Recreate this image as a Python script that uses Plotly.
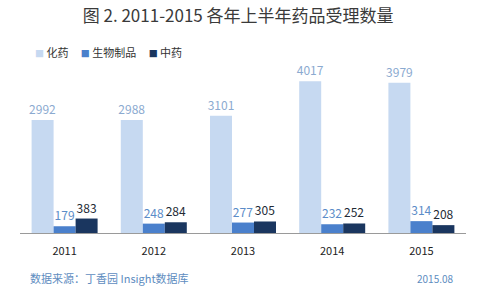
import plotly.graph_objects as go

years = ["2011", "2012", "2013", "2014", "2015"]
chem = [2992, 2988, 3101, 4017, 3979]
bio = [179, 248, 277, 232, 314]
tcm = [383, 284, 305, 252, 208]
series_names = ["化药", "生物制品", "中药"]

FONT = "Noto Sans CJK SC, Noto Sans, sans-serif"
bar_colors = ["#C6D9F1", "#4A80CC", "#1A365F"]
label_colors = ["#8BAAD0", "#5B8CC8", "#222A35"]

fig = go.Figure()
for name, vals, bc, lc in zip(series_names, [chem, bio, tcm], bar_colors, label_colors):
    fig.add_trace(go.Bar(
        x=years, y=vals, name=name, marker=dict(color=bc, line=dict(width=0)),
        text=[str(v) for v in vals], textposition="outside", cliponaxis=False,
        constraintext="none",
        textfont=dict(family=FONT, size=12, color=lc), showlegend=False,
    ))

# plot area: x 20..466, y 63..233 (px)
def px(x):
    return (x - 20) / 446

def py(y):
    return (233 - y) / 170

legend_html = "&nbsp;&nbsp;&nbsp;&nbsp;&nbsp;".join(
    f"<span style='color:{c};font-size:9px'>■</span> {n}" for n, c in zip(series_names, bar_colors)
)

fig.update_layout(
    width=491, height=305,
    margin=dict(l=20, r=25, t=63, b=72),
    paper_bgcolor="white", plot_bgcolor="white",
    barmode="group", bargap=0.26, bargroupgap=0,
    title=dict(text="图 2. 2011-2015 各年上半年药品受理数量", x=0.485, xanchor="center",
               y=1 - 16 / 305, yanchor="middle",
               font=dict(family=FONT, size=17, color="#3A3A3A")),
    xaxis=dict(showline=True, linecolor="#9A9A9A", linewidth=1, ticks="",
               ticklabelstandoff=8,
               tickfont=dict(family=FONT, size=11, color="#222222"), showgrid=False),
    yaxis=dict(range=[0, 4500], visible=False, showgrid=False),
    font=dict(family=FONT),
    annotations=[
        dict(text=legend_html, x=px(33), y=py(52), xref="paper", yref="paper",
             xanchor="left", yanchor="middle", showarrow=False,
             font=dict(family=FONT, size=11, color="#333333")),
        dict(text="数据来源：丁香园 Insight数据库", x=px(28), y=py(278), xref="paper", yref="paper",
             xanchor="left", yanchor="middle", showarrow=False,
             font=dict(family=FONT, size=11, color="#5E8DBF")),
        dict(text="2015.08", x=px(456), y=py(278), xref="paper", yref="paper",
             xanchor="right", yanchor="middle", showarrow=False,
             font=dict(family=FONT, size=10, color="#5E8DBF")),
    ],
)
fig.write_html("out.html")
